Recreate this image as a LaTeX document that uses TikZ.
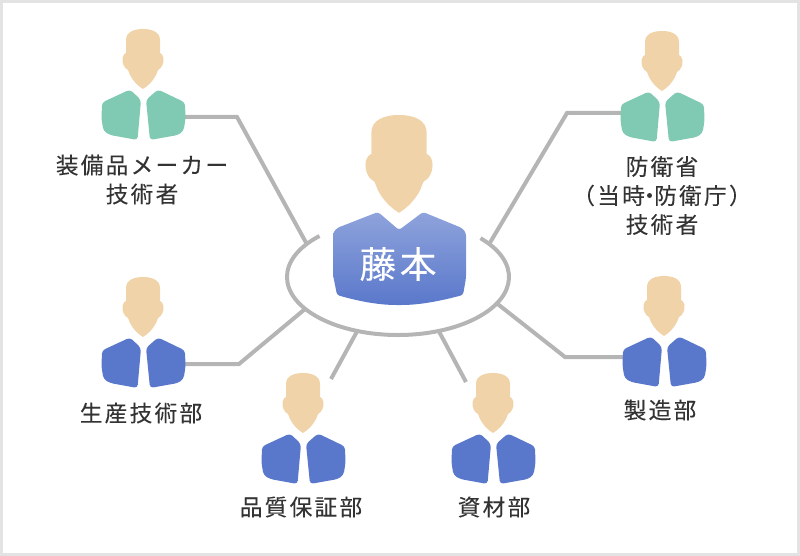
\documentclass[tikz,border=0pt]{standalone}
\usepackage{fontspec}
\usepackage{xcolor}
\usetikzlibrary{shapes.geometric}
\newfontfamily\jpfont[LetterSpace=10,FakeBold=0.12]{Noto Sans CJK JP}
\definecolor{skincol}{HTML}{F0D3A9}
\definecolor{greenbody}{HTML}{80CAB3}
\definecolor{bluebody}{HTML}{5A78CB}
\definecolor{linkgray}{HTML}{B5B5B5}
\definecolor{framegray}{HTML}{E3E3E3}
\definecolor{textgray}{HTML}{333333}
\tikzset{
  link/.style={draw=linkgray,line width=3pt},
  namelabel/.style={text=textgray,align=center,inner sep=0pt,
    font={\jpfont\fontsize{17}{21.75}\selectfont}},
  pics/head/.style={code={
    \fill[skincol] (0,60) .. controls (-5,57) and (-10,52) .. (-13,46) -- (-15,41)
      .. controls (-19,39) and (-21,34) .. (-20.5,29) .. controls (-20,26) and (-18,24) .. (-17,24)
      -- (-17,11) .. controls (-17,3) and (-9,0) .. (0,0) .. controls (9,0) and (17,3) .. (17,11)
      -- (17,24) .. controls (18,24) and (20,26) .. (20.5,29) .. controls (21,34) and (19,39) .. (15,41)
      -- (13,46) .. controls (10,52) and (5,57) .. (0,60) -- cycle;
  }},
  pics/person/.style={code={
    \pic {head};
    \fill[#1,rounded corners=2.5pt] (-13,60.5) -- (-2,71) -- (-5.5,111) -- (-33,106) -- (-39.5,102)
      -- (-41.5,90) -- (-41,73.5) -- cycle;
    \fill[#1,rounded corners=2.5pt] (15,60.5) -- (3,71) -- (7,111) -- (35,106) -- (40.5,102)
      -- (42.5,90) -- (42,73.5) -- cycle;
  }},
}
\begin{document}
\begin{tikzpicture}[x=0.75pt,y=-0.75pt]
  \useasboundingbox (0,0) rectangle (800,556);
  \draw[framegray,line width=2pt] (1.3,1.5) rectangle (798.7,554.5);
  % ring and its six links
  \node[ellipse,minimum width=166.5pt,minimum height=87pt,inner sep=0pt] (hub) at (398,277) {};
  \draw[link] (319.5,236) arc[start angle=225,end angle=-42,x radius=111,y radius=58];
  \coordinate (makerarm) at (185,117);
  \coordinate (makerbend) at (237,117);
  \coordinate (agencyarm) at (622,113);
  \coordinate (agencybend) at (567,113);
  \coordinate (prodarm) at (185,364);
  \coordinate (prodbend) at (239,364);
  \coordinate (mfgarm) at (624,357);
  \coordinate (mfgbend) at (565,357);
  \coordinate (qualityend) at (331,379);
  \coordinate (materialend) at (466,382);
  \draw[link] (makerarm)--(makerbend)--(hub.160);
  \draw[link] (agencyarm)--(agencybend)--(hub.20);
  \draw[link] (prodarm)--(prodbend)--(hub.199);
  \draw[link] (mfgarm)--(mfgbend)--(hub.345);
  \draw[link] (qualityend)--(hub.233);
  \draw[link] (materialend)--(hub.307);
  % people
  \pic (maker) at (143,29) {person=greenbody};
  \pic (agency) at (662,31) {person=greenbody};
  \pic (prod) at (143,277) {person=bluebody};
  \pic (mfg) at (664,276) {person=bluebody};
  \pic (quality) at (303,373) {person=bluebody};
  \pic (material) at (493,373) {person=bluebody};
  % centre person
  \pic[scale=1.63] (fujimotohead) at (399,115) {head};
  \path[top color=bluebody!68!white,bottom color=bluebody,rounded corners=2pt]
    (378,212) -- (399,230) -- (423,212) -- (462,228) -- (466,233) -- (466,278) -- (463,295)
    .. controls (440,301) and (420,305) .. (399,305) .. controls (378,305) and (358,301) .. (337,295)
    -- (333,275) -- (333,233) -- (337,228) -- cycle;
  \node[text=white,inner sep=0pt,font={\jpfont\fontsize{27.5}{32}\selectfont}] (fujimoto) at (398,264) {藤本};
  % labels
  \node[namelabel] (makerlabel) at (142,179.5) {装備品メーカー\\技術者};
  \node[namelabel] (agencylabel) at (662,195.5) {防衛省\\（当時\hspace{-5pt}・\hspace{-5pt}防衛庁）\\技術者};
  \node[namelabel] (prodlabel) at (141,413) {生産技術部};
  \node[namelabel] (mfglabel) at (660,410) {製造部};
  \node[namelabel] (qualitylabel) at (301,507) {品質保証部};
  \node[namelabel] (materiallabel) at (494,507) {資材部};
\end{tikzpicture}
\end{document}
